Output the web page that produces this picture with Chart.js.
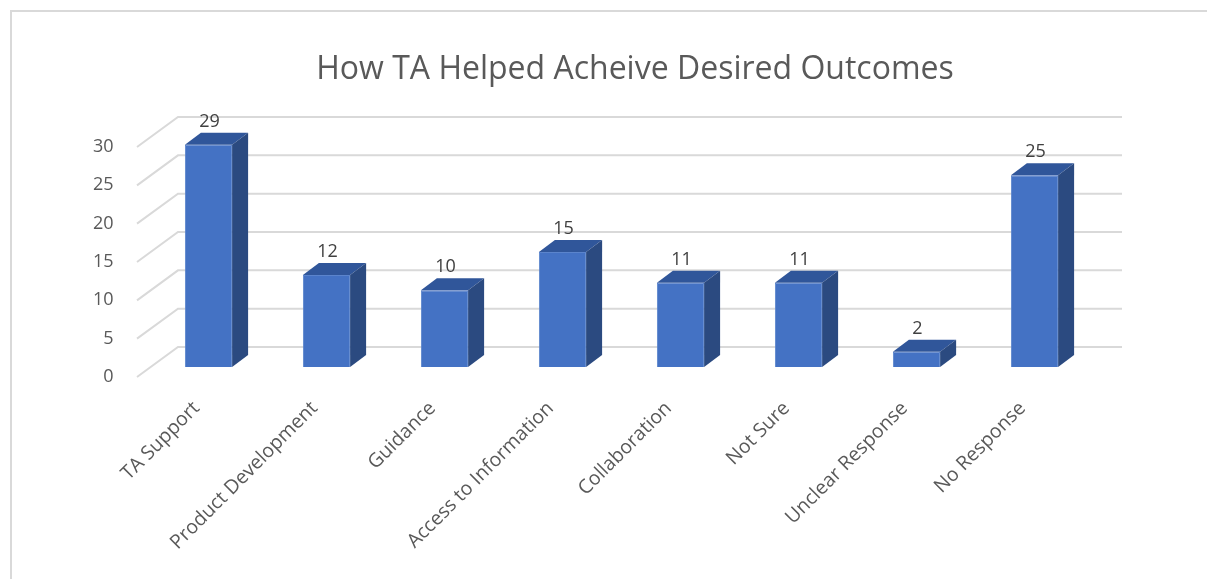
<!DOCTYPE html>
<html>
<head>
<meta charset="utf-8">
<script src="https://cdn.jsdelivr.net/npm/chart.js@4.4.1/dist/chart.umd.min.js"></script>
<style>
  html, body { margin: 0; padding: 0; background: #fff; overflow: hidden; }
  #frame { position: absolute; left: 10px; top: 10px; width: 1300px; height: 700px; border: 2px solid #d9d9d9; }
  #wrap { position: absolute; left: 0; top: 0; width: 1207px; height: 579px; }
</style>
</head>
<body>
<div id="frame"></div>
<div id="wrap"><canvas id="chart"></canvas></div>
<script>
const chartTitle = 'How TA Helped Acheive Desired Outcomes';
const categories = ['TA Support', 'Product Development', 'Guidance', 'Access to Information', 'Collaboration', 'Not Sure', 'Unclear Response', 'No Response'];
const counts = [29, 12, 10, 15, 11, 11, 2, 25];
const yTicks = [0, 5, 10, 15, 20, 25, 30];

// depth offsets for the 3d look
const BACK = { dx: 28.5, dy: -20 };
const FRONT = { dx: -12.5, dy: 10 };
const SIDE = { dx: 16, dy: -12 };

const gridPlugin = {
  id: 'grid3d',
  beforeDatasetsDraw(chart) {
    const { ctx, chartArea, scales } = chart;
    const y = scales.y;
    ctx.save();
    ctx.strokeStyle = '#d9d9d9';
    ctx.lineWidth = 2;
    yTicks.forEach((v) => {
      const py = y.getPixelForValue(v);
      ctx.beginPath();
      ctx.moveTo(chartArea.left + FRONT.dx, py + FRONT.dy);
      ctx.lineTo(chartArea.left + BACK.dx, py + BACK.dy);
      ctx.lineTo(chartArea.right + BACK.dx, py + BACK.dy);
      ctx.stroke();
    });
    // title, centred over the back wall
    ctx.fillStyle = '#595959';
    ctx.font = '32px "Open Sans", sans-serif';
    ctx.textAlign = 'center';
    ctx.textBaseline = 'middle';
    ctx.fillText(chartTitle, 635, 70);
    ctx.restore();
  }
};

const boxPlugin = {
  id: 'box3d',
  afterDatasetsDraw(chart) {
    const { ctx } = chart;
    const meta = chart.getDatasetMeta(0);
    ctx.save();
    meta.data.forEach((bar, i) => {
      const x1 = bar.x - bar.width / 2;
      const x2 = bar.x + bar.width / 2;
      const top = bar.y;
      const base = bar.base;
      // top face
      ctx.fillStyle = '#30569a';
      ctx.beginPath();
      ctx.moveTo(x1, top);
      ctx.lineTo(x2, top);
      ctx.lineTo(x2 + SIDE.dx, top + SIDE.dy);
      ctx.lineTo(x1 + SIDE.dx, top + SIDE.dy);
      ctx.closePath();
      ctx.fill();
      // side face
      ctx.fillStyle = '#2b4a80';
      ctx.beginPath();
      ctx.moveTo(x2, top);
      ctx.lineTo(x2 + SIDE.dx, top + SIDE.dy);
      ctx.lineTo(x2 + SIDE.dx, base + SIDE.dy);
      ctx.lineTo(x2, base);
      ctx.closePath();
      ctx.fill();
      // value label
      ctx.fillStyle = '#404040';
      ctx.font = '18px "Open Sans", sans-serif';
      ctx.textAlign = 'center';
      ctx.textBaseline = 'middle';
      ctx.fillText(String(counts[i]), bar.x + 1, top - 23);
    });
    ctx.restore();
  }
};

new Chart(document.getElementById('chart'), {
  type: 'bar',
  data: {
    labels: categories,
    datasets: [{
      data: counts,
      backgroundColor: '#4472c4',
      borderColor: '#5b84cc',
      borderWidth: 1,
      categoryPercentage: 1,
      barPercentage: 0.4
    }]
  },
  options: {
    responsive: true,
    maintainAspectRatio: false,
    animation: false,
    layout: { padding: { top: 137, right: 113.5, bottom: 0, left: 0 } },
    plugins: {
      legend: { display: false },
      tooltip: { enabled: false },
      title: { display: false }
    },
    scales: {
      x: {
        grid: { display: false, drawTicks: false },
        border: { display: false },
        afterFit: (s) => { s.height = 212; },
        ticks: {
          color: '#595959',
          font: { family: '"Open Sans", sans-serif', size: 19.5 },
          maxRotation: 45,
          minRotation: 45,
          labelOffset: -12,
          padding: 30,
          autoSkip: false
        }
      },
      y: {
        min: 0,
        max: 30,
        grid: { display: false, drawTicks: false },
        border: { display: false },
        afterFit: (s) => { s.width = 149.5; },
        afterBuildTicks: (s) => { s.ticks = yTicks.map((v) => ({ value: v })); },
        ticks: {
          color: '#595959',
          font: { family: '"Open Sans", sans-serif', size: 18 },
          padding: 36,
          labelOffset: 10
        }
      }
    }
  },
  plugins: [gridPlugin, boxPlugin]
});
</script>
</body>
</html>
